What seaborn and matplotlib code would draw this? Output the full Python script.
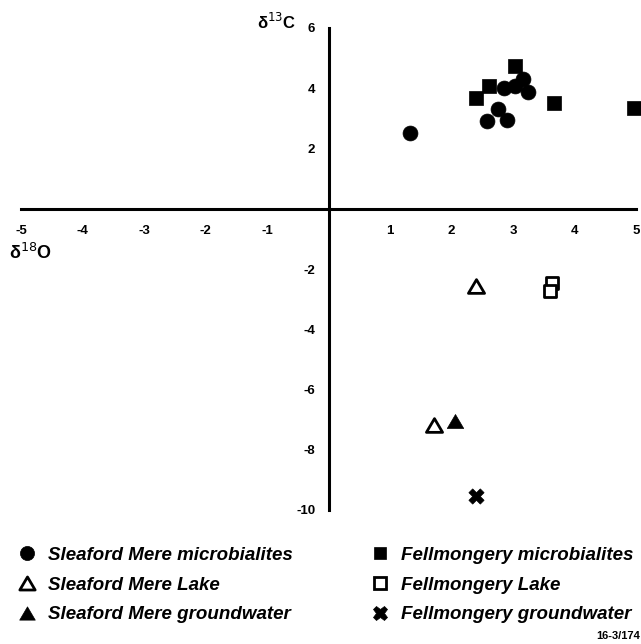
import pandas as pd
import seaborn as sns
import matplotlib.pyplot as plt
from matplotlib.lines import Line2D
from matplotlib.path import Path

sns.set_theme(style="white")
plt.rcParams["font.family"] = ["Liberation Sans", "DejaVu Sans"]
plt.rcParams["text.color"] = "black"

# delta 18O (x) and delta 13C (y)
sm_micro_x = [1.33, 2.58, 2.76, 2.90, 2.86, 3.03, 3.17, 3.25]
sm_micro_y = [2.53, 2.90, 3.30, 2.96, 4.01, 4.08, 4.30, 3.88]
sm_lake_x = [2.40, 1.71]
sm_lake_y = [-2.57, -7.18]
sm_gw_x = [2.05]
sm_gw_y = [-7.04]
fm_micro_x = [3.03, 2.61, 2.40, 3.66, 4.96]
fm_micro_y = [4.74, 4.08, 3.68, 3.50, 3.33]
fm_lake_x = [3.63, 3.60]
fm_lake_y = [-2.45, -2.72]
fm_gw_x = [2.40]
fm_gw_y = [-9.55]

series_names = [
    "Sleaford Mere microbialites",
    "Sleaford Mere Lake",
    "Sleaford Mere groundwater",
    "Fellmongery microbialites",
    "Fellmongery Lake",
    "Fellmongery groundwater",
]
xs = [sm_micro_x, sm_lake_x, sm_gw_x, fm_micro_x, fm_lake_x, fm_gw_x]
ys = [sm_micro_y, sm_lake_y, sm_gw_y, fm_micro_y, fm_lake_y, fm_gw_y]

x_ticks = [-5, -4, -3, -2, -1, 1, 2, 3, 4, 5]
y_ticks = [6, 4, 2, -2, -4, -6, -8, -10]

df = pd.concat(
    [pd.DataFrame({"d18O": x, "d13C": y, "group": n}) for n, x, y in zip(series_names, xs, ys)],
    ignore_index=True,
)

# slightly squat triangle, closed so the open version has all three sides
tri = Path([(-1, -0.85), (1, -0.85), (0, 0.85), (-1, -0.85)], closed=True)
styles = {
    "Sleaford Mere microbialites": dict(marker="o", face="black", s=115, lw=0.5),
    "Sleaford Mere Lake": dict(marker=tri, face="white", s=135, lw=2.0),
    "Sleaford Mere groundwater": dict(marker=tri, face="black", s=140, lw=0.5),
    "Fellmongery microbialites": dict(marker="s", face="black", s=95, lw=0.5),
    "Fellmongery Lake": dict(marker="s", face="white", s=80, lw=2.0),
    "Fellmongery groundwater": dict(marker="X", face="black", s=120, lw=0.5),
}

fig = plt.figure(figsize=(6.41, 6.44), dpi=100)
ax = fig.add_axes([21 / 641, 1 - 510 / 644, 615 / 641, 482 / 644])

for name in series_names:
    st = styles[name]
    sns.scatterplot(
        data=df[df["group"] == name],
        x="d18O",
        y="d13C",
        marker=st["marker"],
        color=st["face"],
        edgecolor="black",
        linewidth=st["lw"],
        s=st["s"],
        ax=ax,
        clip_on=False,
        zorder=3,
    )

ax.set_xlim(-5, 5)
ax.set_ylim(-10, 6)
ax.spines["left"].set_position(("data", 0))
ax.spines["bottom"].set_position(("data", 0))
ax.spines["top"].set_visible(False)
ax.spines["right"].set_visible(False)
for sp in ("left", "bottom"):
    ax.spines[sp].set_linewidth(2.2)
    ax.spines[sp].set_color("black")

ax.set_xticks(x_ticks)
ax.set_yticks(y_ticks)
ax.set_xticklabels([str(t) for t in x_ticks])
ax.set_yticklabels([str(t) for t in y_ticks])
ax.tick_params(axis="x", direction="inout", length=17, width=2.2, pad=3,
               labelsize=9.5, colors="black")
ax.tick_params(axis="y", direction="inout", length=17, width=2.2, pad=1,
               labelsize=9.5, colors="black")
for lab in ax.get_xticklabels() + ax.get_yticklabels():
    lab.set_fontweight("bold")
ax.set_xlabel("")
ax.set_ylabel("")

ax.text(-5.2, -1.47, "δ$^{18}$O", fontsize=13, fontweight="bold",
        ha="left", va="center", clip_on=False)
ax.text(-1.17, 6.2, "δ$^{13}$C", fontsize=12, fontweight="bold",
        ha="left", va="center", clip_on=False)


def handle(name):
    st = styles[name]
    return Line2D([], [], linestyle="none", marker=st["marker"],
                  markerfacecolor=st["face"], markeredgecolor="black",
                  markeredgewidth=st["lw"], markersize=st["s"] ** 0.5 * 0.95)


prop = dict(family="Liberation Sans", style="italic", weight="bold", size=13.5)
for cols, x0 in ((series_names[:3], 8 / 641), (series_names[3:], 361 / 641)):
    fig.legend(handles=[handle(n) for n in cols], labels=cols,
               loc="upper left", bbox_to_anchor=(x0, 1 - 539 / 644),
               frameon=False, prop=prop, handletextpad=0.55, labelcolor="black",
               labelspacing=0.68, handlelength=1.2, borderaxespad=0)

fig.text(640 / 641, 1 - 636 / 644, "16-3/174", fontsize=8, fontweight="bold",
         ha="right", va="center")

fig.savefig("out.png", dpi=100)
